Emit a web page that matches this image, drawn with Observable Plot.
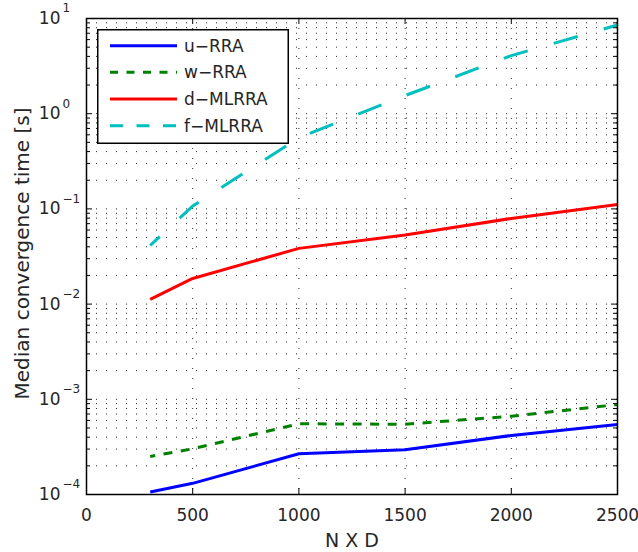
<!DOCTYPE html>
<html>
<head>
<meta charset="utf-8">
<script src="https://cdn.jsdelivr.net/npm/d3@7"></script>
<script src="https://cdn.jsdelivr.net/npm/@observablehq/plot@0.6"></script>
<style>
  html, body { margin: 0; padding: 0; background: #fff; }
  #chart { position: relative; width: 638px; height: 552px; font-family: "DejaVu Sans", sans-serif; }
  #legend { position: absolute; left: 97px; top: 29px; }
</style>
</head>
<body>
<div id="chart"></div>
<script>
// Problem size (N x D) at which the timings were taken
const nxd = [300, 500, 1000, 1500, 2000, 2500];

// Median convergence time [s] per method
const uRRA   = [1.06e-4, 1.31e-4, 2.68e-4, 2.95e-4, 4.17e-4, 5.43e-4];
const wRRA   = [2.51e-4, 3.02e-4, 5.53e-4, 5.47e-4, 6.64e-4, 8.80e-4];
const dMLRRA = [0.0112, 0.0186, 0.0385, 0.0531, 0.0794, 0.111];
const fMLRRA = [0.0414, 0.107, 0.56, 1.55, 4.07, 8.55];

const seriesNames = ["u−RRA", "w−RRA", "d−MLRRA", "f−MLRRA"];
const seriesValues = [uRRA, wRRA, dMLRRA, fMLRRA];

// Axis ticks
const xTicks = [0, 500, 1000, 1500, 2000, 2500];
const xGrid = [500, 1000, 1500, 2000];
const decadeExponents = [-4, -3, -2, -1, 0, 1];

// Styles per series
const colors = ["#0000ff", "#008000", "#ff0000", "#00bfbf"];
const plotDash = [null, "9,8.5", null, "25,27"];
const plotDashOffset = [0, 4, 0, 12];
const legendDash = [null, "8,8.5", null, "13,13.5"];

const FONT = "DejaVu Sans, sans-serif";
const TEXT = "#262626";

const W = 638, H = 552;
const mL = 86, mR = 21, mT = 18, mB = 58;
const innerW = W - mL - mR, innerH = H - mT - mB;

const decades = decadeExponents.map(e => Math.pow(10, e));
const minors = [];
for (const e of decadeExponents.slice(0, -1))
  for (let k = 2; k <= 9; k++) minors.push(k * Math.pow(10, e));
const yGrid = decades.slice(1, -1).concat(minors);

const rows = [];
seriesNames.forEach((name, i) => {
  nxd.forEach((x, j) => rows.push({series: name, x, y: seriesValues[i][j]}));
});

const supText = e => (e < 0 ? "−" + Math.abs(e) : String(e));
const gridStyle = {stroke: "#000", strokeWidth: 1, strokeDasharray: "1,9", strokeOpacity: 0.85};

const chart = Plot.plot({
  width: W,
  height: H,
  marginLeft: mL,
  marginRight: mR,
  marginTop: mT,
  marginBottom: mB,
  style: {fontFamily: FONT, fontSize: "17px", background: "#fff", color: TEXT, overflow: "visible"},
  x: {domain: [0, 2500], axis: null},
  y: {type: "log", domain: [1e-4, 10], axis: null},
  marks: [
    // dotted grid
    Plot.ruleY(yGrid, {y: d => d, ...gridStyle}),
    Plot.ruleX(xGrid, {x: d => d, ...gridStyle}),
    // data lines
    ...seriesNames.map((name, i) =>
      Plot.line(rows.filter(r => r.series === name), {
        x: "x", y: "y",
        stroke: colors[i],
        strokeWidth: 3,
        strokeDasharray: plotDash[i],
        strokeDashoffset: plotDashOffset[i],
        strokeLinecap: "butt",
        strokeLinejoin: "round"
      })
    ),
    // inward ticks, bottom and top
    Plot.tickX(xTicks, {x: d => d, insetTop: innerH - 6, stroke: "#000", strokeWidth: 1}),
    Plot.tickX(xTicks, {x: d => d, insetBottom: innerH - 6, stroke: "#000", strokeWidth: 1}),
    // inward ticks, left and right
    Plot.tickY(decades, {y: d => d, insetRight: innerW - 6, stroke: "#000", strokeWidth: 1}),
    Plot.tickY(decades, {y: d => d, insetLeft: innerW - 6, stroke: "#000", strokeWidth: 1}),
    Plot.tickY(minors, {y: d => d, insetRight: innerW - 4, stroke: "#000", strokeWidth: 1}),
    Plot.tickY(minors, {y: d => d, insetLeft: innerW - 4, stroke: "#000", strokeWidth: 1}),
    Plot.frame({stroke: "#000", strokeWidth: 1.5}),
    // x tick labels
    Plot.text(xTicks, {x: d => d, frameAnchor: "bottom", dy: 21, lineAnchor: "middle", text: d => String(d), fontSize: 17, fill: TEXT}),
    // y tick labels 10^e
    Plot.text(decadeExponents, {y: e => Math.pow(10, e), frameAnchor: "left", dx: -26, text: () => "10", textAnchor: "end", fontSize: 17, fill: TEXT}),
    Plot.text(decadeExponents, {y: e => Math.pow(10, e), frameAnchor: "left", dx: -24, dy: -10, text: e => supText(e), textAnchor: "start", fontSize: 12, fill: TEXT}),
    // axis titles
    Plot.text(["N X D"], {frameAnchor: "bottom", dy: 46, lineAnchor: "middle", text: d => d, fontSize: 19, fill: TEXT}),
    Plot.text(["Median convergence time [s]"], {frameAnchor: "left", dx: -64, dy: -3, rotate: -90, textAnchor: "middle", lineAnchor: "middle", text: d => d, fontSize: 20, fill: TEXT})
  ]
});

const container = document.getElementById("chart");
container.appendChild(chart);

// Legend box
const lw = 192, lh = 115;
const legend = d3.select(container).append("svg")
  .attr("id", "legend")
  .attr("width", lw)
  .attr("height", lh);
legend.append("rect")
  .attr("x", 0.75).attr("y", 0.75)
  .attr("width", lw - 1.5).attr("height", lh - 1.5)
  .attr("fill", "#fff").attr("stroke", "#000").attr("stroke-width", 1.5);
const rowY = [16.7, 43.3, 70, 96.7];
seriesNames.forEach((name, i) => {
  legend.append("line")
    .attr("x1", 13).attr("x2", 80)
    .attr("y1", rowY[i]).attr("y2", rowY[i])
    .attr("stroke", colors[i]).attr("stroke-width", 3)
    .attr("stroke-dasharray", legendDash[i]);
  legend.append("text")
    .attr("x", 87).attr("y", rowY[i])
    .attr("dy", "0.35em")
    .attr("font-family", FONT)
    .attr("font-size", 17)
    .attr("fill", TEXT)
    .text(name);
});
</script>
</body>
</html>
